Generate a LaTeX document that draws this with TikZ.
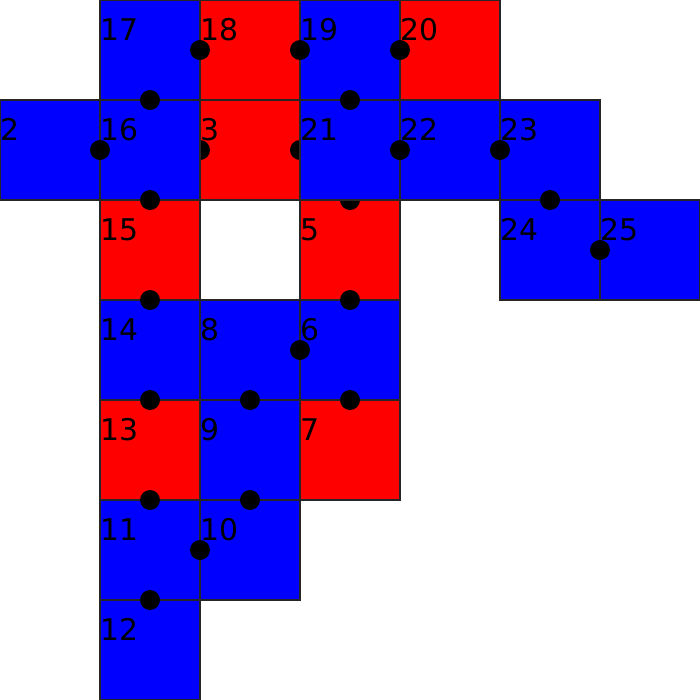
\documentclass[tikz,border=0pt]{standalone}
\usepackage{fontspec}
\setmainfont{DejaVu Sans}
\tikzset{
  sq/.style={draw=black!85, line width=0.45pt, minimum size=1cm, inner sep=0pt, outer sep=0pt},
  cdot/.style={circle, fill=black, minimum size=0.2cm, inner sep=0pt, outer sep=0pt},
  lab/.style={anchor=base west, inner sep=0pt, font=\fontsize{8.5pt}{9pt}\selectfont}
}
\begin{document}
\begin{tikzpicture}
\useasboundingbox (0,0) rectangle (7,7);
% squares drawn first (partly covered dots follow)
\foreach \n/\c/\r/\col in {2/0/1/blue,3/2/1/red,5/3/2/red}
  \node[sq, fill=\col] (s\n) at (\c+0.5,6.5-\r) {};
\node[cdot] (d1) at (s3.west) {};
\node[cdot] (d2) at (s3.east) {};
\node[cdot] (d3) at (s5.north) {};
% remaining squares
\foreach \n/\c/\r/\col in {6/3/3/blue,7/3/4/red,8/2/3/blue,9/2/4/blue,10/2/5/blue,
  11/1/5/blue,12/1/6/blue,13/1/4/red,14/1/3/blue,15/1/2/red,16/1/1/blue,
  17/1/0/blue,18/2/0/red,19/3/0/blue,20/4/0/red,21/3/1/blue,22/4/1/blue,
  23/5/1/blue,24/5/2/blue,25/6/2/blue}
  \node[sq, fill=\col] (s\n) at (\c+0.5,6.5-\r) {};
% connection dots
\node[cdot] (d4) at (s17.east) {};
\node[cdot] (d5) at (s18.east) {};
\node[cdot] (d6) at (s19.east) {};
\node[cdot] (d7) at (s17.south) {};
\node[cdot] (d8) at (s19.south) {};
\node[cdot] (d9) at (s2.east) {};
\node[cdot] (d10) at (s21.east) {};
\node[cdot] (d11) at (s22.east) {};
\node[cdot] (d12) at (s16.south) {};
\node[cdot] (d13) at (s23.south) {};
\node[cdot] (d14) at (s24.east) {};
\node[cdot] (d15) at (s15.south) {};
\node[cdot] (d16) at (s5.south) {};
\node[cdot] (d17) at (s8.east) {};
\node[cdot] (d18) at (s14.south) {};
\node[cdot] (d19) at (s8.south) {};
\node[cdot] (d20) at (s6.south) {};
\node[cdot] (d21) at (s13.south) {};
\node[cdot] (d22) at (s9.south) {};
\node[cdot] (d23) at (s11.east) {};
\node[cdot] (d24) at (s11.south) {};
% labels
\foreach \n in {2,3,5,6,7,8,9,10,11,12,13,14,15,16,17,18,19,20,21,22,23,24,25}
  \node[lab] (l\n) at ([xshift=-0.005cm,yshift=-0.4cm]s\n.north west) {\n};
\end{tikzpicture}
\end{document}
